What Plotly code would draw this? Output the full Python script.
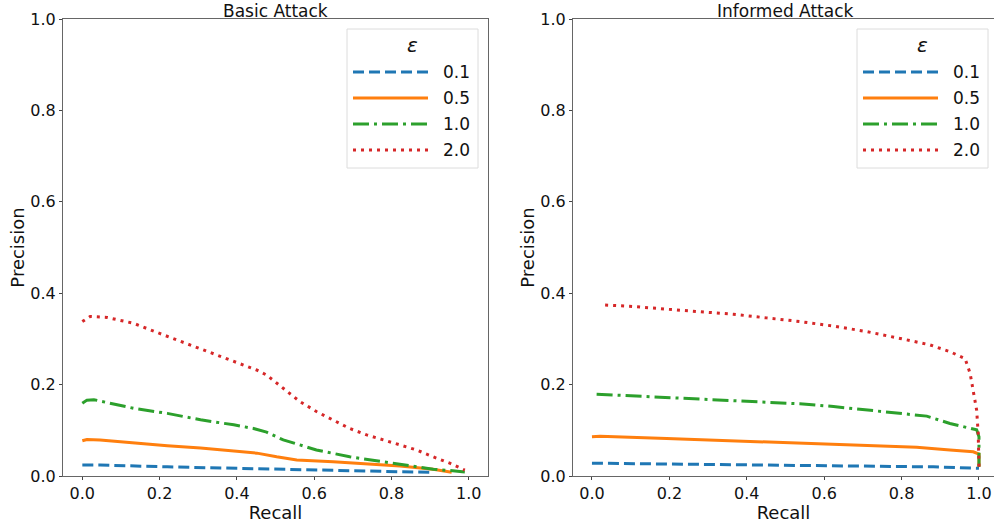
import plotly.graph_objects as go

# ---------------- data ----------------
eps_labels = ["0.1", "0.5", "1.0", "2.0"]
colors = ["#1f77b4", "#ff7f0e", "#2ca02c", "#d62728"]
dashes = ["11px,5px", "solid", "16px,5px,3px,5px", "3px,5px"]

# Basic attack
basic_recall_01 = [0.0, 0.046, 0.22, 0.392, 0.563, 0.736, 0.90]
basic_prec_01 = [0.024, 0.024, 0.020, 0.017, 0.013, 0.011, 0.008]

basic_recall_05 = [0.0, 0.012, 0.046, 0.133, 0.22, 0.306, 0.392, 0.452, 0.503, 0.555, 0.649, 0.736, 0.822, 0.908, 0.956]
basic_prec_05 = [0.077, 0.080, 0.079, 0.072, 0.066, 0.061, 0.055, 0.050, 0.042, 0.035, 0.031, 0.026, 0.022, 0.015, 0.008]

basic_recall_10 = [0.0, 0.012, 0.03, 0.133, 0.22, 0.306, 0.392, 0.443, 0.477, 0.52, 0.563, 0.606, 0.692, 0.779, 0.865, 0.908, 0.951, 0.99]
basic_prec_10 = [0.159, 0.166, 0.167, 0.148, 0.137, 0.123, 0.112, 0.104, 0.096, 0.079, 0.068, 0.057, 0.042, 0.031, 0.020, 0.015, 0.012, 0.009]

basic_recall_20 = [0.0, 0.02, 0.064, 0.133, 0.20, 0.27, 0.339, 0.408, 0.451, 0.477, 0.503, 0.537, 0.563, 0.606, 0.649, 0.692, 0.736, 0.779, 0.822, 0.865, 0.908, 0.951, 0.99]
basic_prec_20 = [0.338, 0.349, 0.347, 0.334, 0.312, 0.290, 0.268, 0.247, 0.232, 0.221, 0.203, 0.181, 0.163, 0.141, 0.123, 0.104, 0.090, 0.079, 0.068, 0.057, 0.042, 0.028, 0.013]

# Informed attack
inf_recall_01 = [0.0, 0.193, 0.451, 0.710, 0.882, 1.0]
inf_prec_01 = [0.028, 0.026, 0.024, 0.022, 0.020, 0.017]

inf_recall_05 = [0.0, 0.021, 0.193, 0.365, 0.537, 0.710, 0.839, 0.925, 0.985, 1.0, 1.0]
inf_prec_05 = [0.086, 0.087, 0.082, 0.077, 0.073, 0.068, 0.063, 0.057, 0.053, 0.048, 0.020]

inf_recall_10 = [0.012, 0.064, 0.193, 0.365, 0.537, 0.624, 0.710, 0.796, 0.865, 0.925, 0.994, 1.0, 1.0]
inf_prec_10 = [0.179, 0.177, 0.171, 0.165, 0.158, 0.152, 0.144, 0.137, 0.131, 0.115, 0.101, 0.086, 0.020]

inf_recall_20 = [0.034, 0.107, 0.193, 0.279, 0.365, 0.451, 0.537, 0.624, 0.710, 0.796, 0.873, 0.925, 0.964, 0.977, 0.985, 0.994, 0.998, 1.0]
inf_prec_20 = [0.374, 0.371, 0.365, 0.360, 0.354, 0.346, 0.338, 0.328, 0.316, 0.301, 0.287, 0.272, 0.257, 0.225, 0.188, 0.144, 0.093, 0.020]

basic_series = [(basic_recall_01, basic_prec_01), (basic_recall_05, basic_prec_05),
                (basic_recall_10, basic_prec_10), (basic_recall_20, basic_prec_20)]
inf_series = [(inf_recall_01, inf_prec_01), (inf_recall_05, inf_prec_05),
              (inf_recall_10, inf_prec_10), (inf_recall_20, inf_prec_20)]

tick_vals = [0.0, 0.2, 0.4, 0.6, 0.8, 1.0]
tick_text = ["0.0", "0.2", "0.4", "0.6", "0.8", "1.0"]

FONT = "DejaVu Sans"
TXT = "#111111"
W, H = 994, 523

fig = go.Figure()
for i, (r, p) in enumerate(basic_series):
    fig.add_trace(go.Scatter(x=r, y=p, mode="lines", name=eps_labels[i], showlegend=False,
                             line=dict(color=colors[i], width=3, dash=dashes[i]),
                             xaxis="x", yaxis="y"))
for i, (r, p) in enumerate(inf_series):
    fig.add_trace(go.Scatter(x=r, y=p, mode="lines", name=eps_labels[i], showlegend=False,
                             line=dict(color=colors[i], width=3, dash=dashes[i]),
                             xaxis="x2", yaxis="y2"))


def px_x(v):
    return v / W


def px_y(v):
    return 1 - v / H


ydom = [px_y(476), px_y(19)]
x1dom = [px_x(63), px_x(488)]
x2dom = [px_x(573), 1.0]

axis_common = dict(showgrid=False, zeroline=False, showline=True, linecolor="#666666",
                   linewidth=1, ticks="outside", ticklen=3, tickwidth=1, tickcolor="#444444",
                   tickfont=dict(family=FONT, size=16, color=TXT), automargin=False,
                   tickvals=tick_vals, ticktext=tick_text)

# ---------- legend (boxed key in each panel) ----------
shapes = []
annotations = []
for off in (0, 510):
    bx0, bx1, by0, by1 = 347 + off, 478 + off, 29, 168
    shapes.append(dict(type="rect", xref="paper", yref="paper",
                       x0=px_x(bx0), x1=px_x(bx1), y0=px_y(by1), y1=px_y(by0),
                       line=dict(color="#dcdcdc", width=1), fillcolor="rgba(255,255,255,0.85)",
                       layer="above"))
    annotations.append(dict(text="<i>ε</i>", xref="paper", yref="paper",
                            x=px_x(412 + off), y=px_y(45), xanchor="center", yanchor="middle",
                            showarrow=False, font=dict(family=FONT, size=20, color=TXT)))
    for i, lab in enumerate(eps_labels):
        yy = 72 + 26 * i
        shapes.append(dict(type="line", xref="paper", yref="paper",
                           x0=px_x(353 + off), x1=px_x(428 + off), y0=px_y(yy), y1=px_y(yy),
                           line=dict(color=colors[i], width=3, dash=dashes[i]), layer="above"))
        annotations.append(dict(text=lab, xref="paper", yref="paper",
                                x=px_x(441 + off), y=px_y(yy), xanchor="left", yanchor="middle",
                                showarrow=False, font=dict(family=FONT, size=17, color=TXT)))

annotations += [
    dict(text="Basic Attack", xref="paper", yref="paper", x=px_x(275), y=px_y(11),
         xanchor="center", yanchor="middle", showarrow=False, borderpad=0,
         font=dict(family=FONT, size=17, color=TXT)),
    dict(text="Informed Attack", xref="paper", yref="paper", x=px_x(785), y=px_y(11),
         xanchor="center", yanchor="middle", showarrow=False, borderpad=0,
         font=dict(family=FONT, size=17, color=TXT)),
]

fig.update_layout(
    width=W, height=H,
    margin=dict(l=0, r=0, t=0, b=0, autoexpand=False),
    plot_bgcolor="white", paper_bgcolor="white",
    font=dict(family=FONT, color=TXT),
    showlegend=False,
    xaxis=dict(domain=x1dom, range=[-0.05, 1.05], anchor="y", mirror=True,
               title=dict(text="Recall", font=dict(size=18), standoff=0), **axis_common),
    yaxis=dict(domain=ydom, range=[0, 1], anchor="x", mirror=True,
               title=dict(text="Precision", font=dict(size=18), standoff=1), **axis_common),
    xaxis2=dict(domain=x2dom, range=[-0.049, 1.0388], anchor="y2", mirror=True,
                title=dict(text="Recall", font=dict(size=18), standoff=0), **axis_common),
    yaxis2=dict(domain=ydom, range=[0, 1], anchor="x2", mirror=False,
                title=dict(text="Precision", font=dict(size=18), standoff=1), **axis_common),
    shapes=shapes,
    annotations=annotations,
)

# remove the default 8px page margin so the figure sits at the window's origin
fig.write_html("out.html", config={"displayModeBar": False},
               post_script="document.body.style.margin='0px';")
